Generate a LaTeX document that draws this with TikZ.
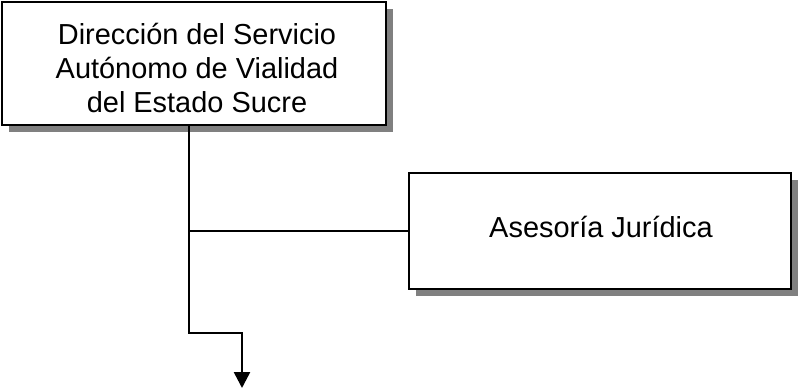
\documentclass[tikz,border=0pt]{standalone}
\usepackage{fontspec}
\setmainfont{Liberation Sans}
\usetikzlibrary{arrows.meta,shadows}
\begin{document}
\begin{tikzpicture}[x=0.75pt,y=-0.75pt,
  orgbox/.style={draw=black, line width=2pt, fill=white, inner sep=0pt,
    drop shadow={shadow xshift=5pt, shadow yshift=-5pt, fill=black!50, opacity=1}},
  orgtext/.style={align=center, inner sep=0pt, font=\fontsize{21.7pt}{25.5pt}\selectfont},
  conn/.style={line width=1.9pt}]
\useasboundingbox (0,0) rectangle (800,390);
\node[orgbox, minimum width=288pt, minimum height=92.25pt] (dir) at (194,63.5) {};
\node[orgtext] (dirtext) at (197,67.5)
  {Dirección del Servicio\\Autónomo de Vialidad\\del Estado Sucre};
\node[orgbox, minimum width=286.5pt, minimum height=87pt] (ase) at (600,231) {};
\node[orgtext] (asetext) at (601,226.5) {Asesoría Jurídica};
\coordinate (j) at (189,231);
\coordinate (k) at (189,333);
\coordinate (m) at (242,333);
\coordinate (t) at (242,388);
\draw[conn, line join=miter] (dir.south -| j) -- (k) -- (m) -- ([yshift=6pt]t);
\draw[conn, -{Triangle[width=12pt,length=12pt]}] ([yshift=6.5pt]t) -- (t);
\draw[conn] (j) -- (ase.west);
\end{tikzpicture}
\end{document}
